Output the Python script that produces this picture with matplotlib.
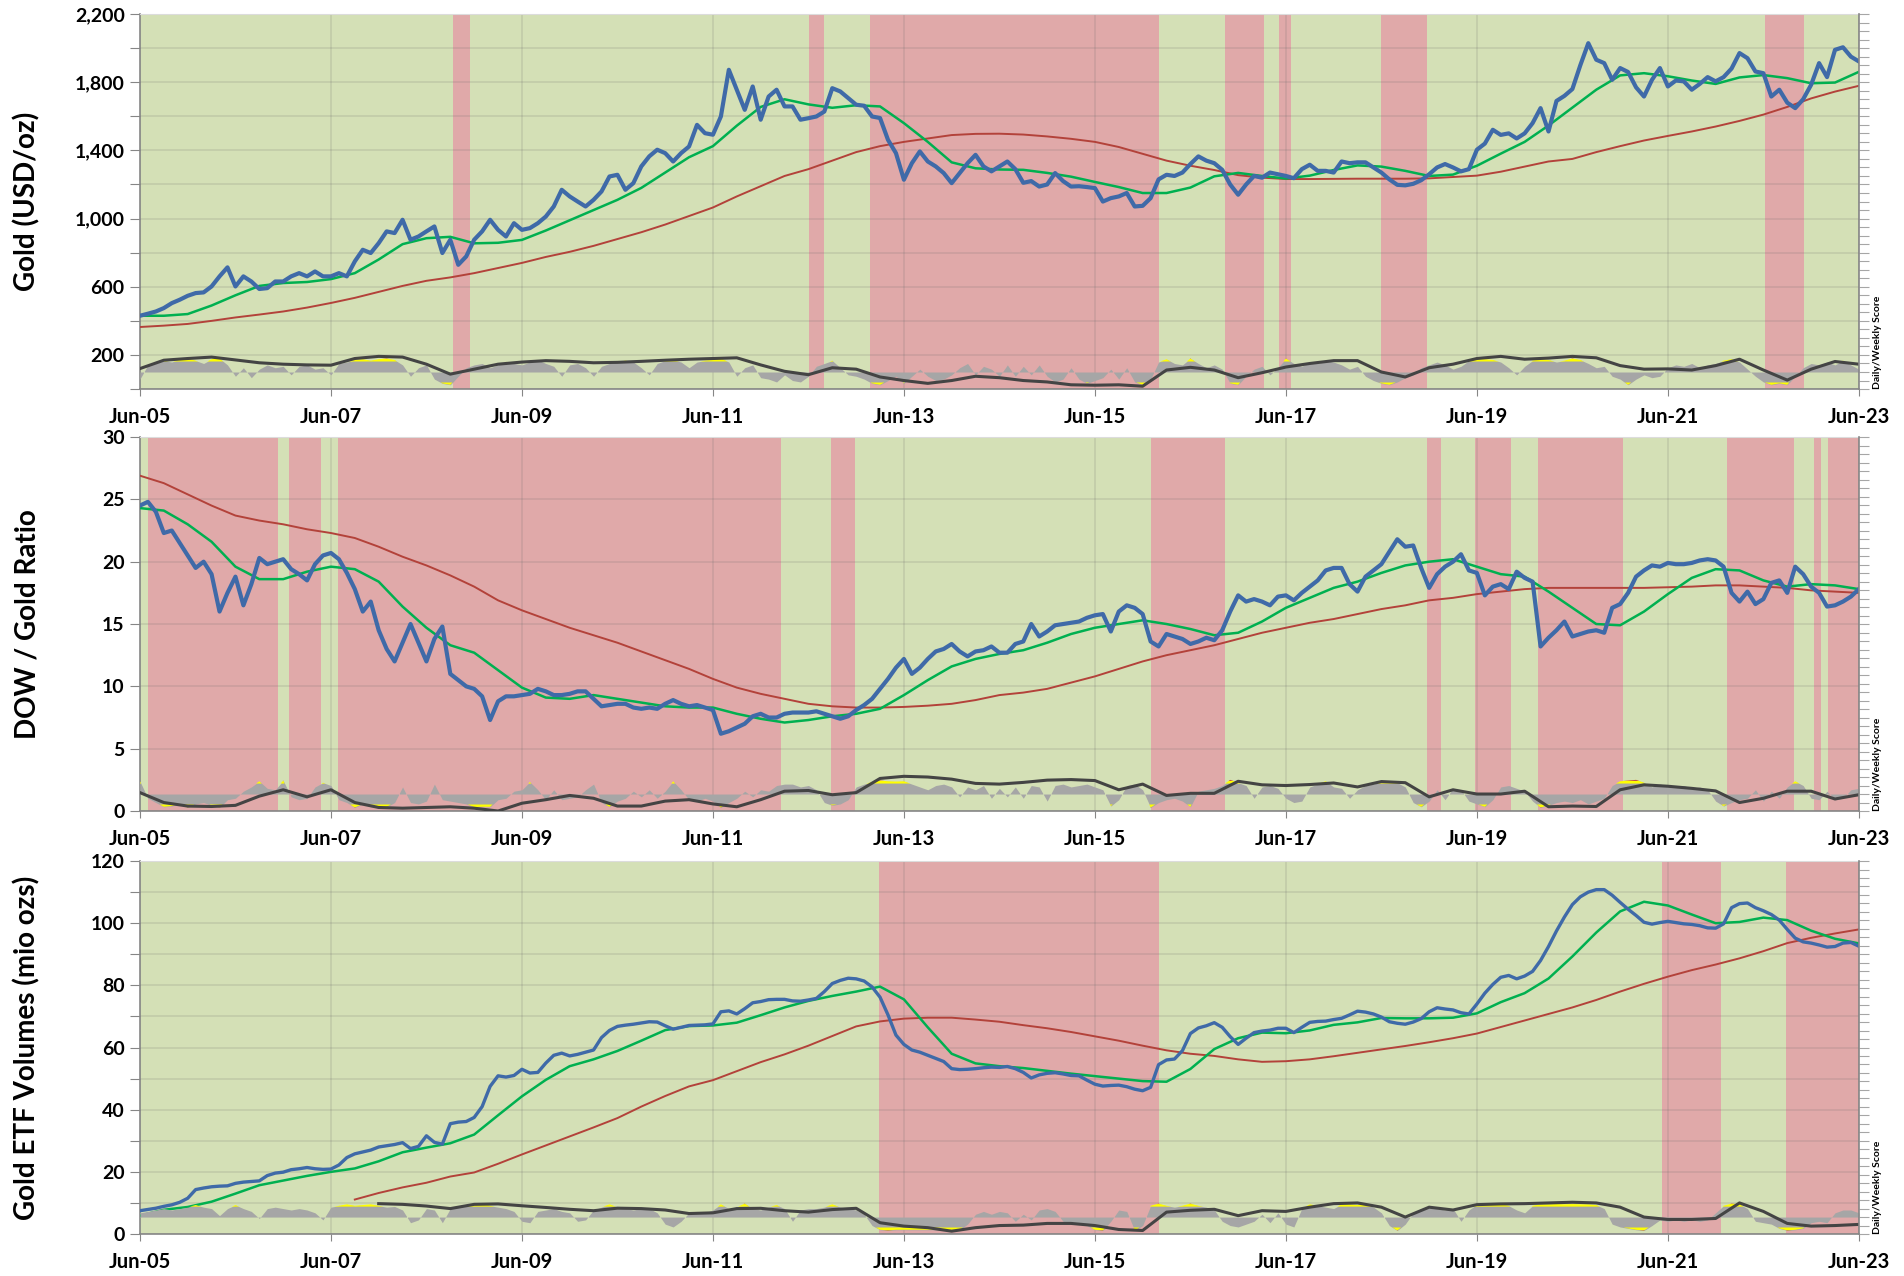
import numpy as np
import matplotlib
matplotlib.use("Agg")
import matplotlib.pyplot as plt

plt.rcParams['font.family'] = ['Lato', 'DejaVu Sans']
plt.rcParams['font.weight'] = 'bold'

# x axis = months since Jun 2005, monthly points 0..216, MAs/weekly score quarterly
x_tick_months = [0, 24, 48, 72, 96, 120, 144, 168, 192, 216]
x_tick_labels = ['Jun-05', 'Jun-07', 'Jun-09', 'Jun-11', 'Jun-13',
                 'Jun-15', 'Jun-17', 'Jun-19', 'Jun-21', 'Jun-23']
nan = np.nan

# ---------------- Panel 1: gold price ----------------
gold_price = (
    [430, 442, 455, 475, 504, 524, 547] +
    [563, 567, 602, 661, 714, 602, 661, 631, 587, 592, 631, 631] +
    [661, 680, 661, 690, 661, 661, 680, 661, 749, 817, 798, 856] +
    [925, 915, 993, 876, 895, 925, 954, 798, 876, 729, 778, 876] +
    [925, 993, 934, 895, 973, 934, 944, 973, 1012, 1071, 1169, 1130] +
    [1100, 1071, 1110, 1159, 1247, 1257, 1169, 1208, 1306, 1365, 1404, 1384] +
    [1335, 1384, 1423, 1550, 1501, 1492, 1599, 1873, 1756, 1638, 1775, 1580] +
    [1716, 1756, 1658, 1658, 1580, 1589, 1599, 1628, 1765, 1746, 1707, 1668] +
    [1662, 1599, 1590, 1462, 1384, 1228, 1325, 1394, 1335, 1306, 1267, 1208] +
    [1267, 1325, 1374, 1306, 1277, 1306, 1335, 1290, 1210, 1220, 1188, 1200] +
    [1267, 1220, 1188, 1190, 1185, 1179, 1100, 1120, 1130, 1150, 1071, 1075] +
    [1120, 1230, 1257, 1250, 1270, 1320, 1365, 1340, 1325, 1286, 1200, 1140] +
    [1200, 1250, 1240, 1270, 1260, 1250, 1237, 1290, 1316, 1280, 1280, 1270] +
    [1335, 1325, 1330, 1330, 1300, 1270, 1230, 1198, 1195, 1204, 1225, 1260] +
    [1300, 1320, 1300, 1277, 1290, 1404, 1440, 1521, 1491, 1500, 1470, 1500] +
    [1560, 1648, 1511, 1690, 1720, 1760, 1900, 2029, 1932, 1912, 1814, 1883] +
    [1860, 1770, 1716, 1814, 1883, 1775, 1810, 1805, 1756, 1790, 1830, 1805] +
    [1830, 1880, 1971, 1941, 1863, 1853, 1716, 1756, 1680, 1648, 1700, 1785] +
    [1912, 1830, 1990, 2005, 1950, 1922])
gold_ma_short = [
    430, 430, 440, 490, 550, 605, 622, 628, 645, 680, 760, 850,
    885, 893, 855, 858, 875, 930, 990, 1050, 1110, 1180, 1270, 1360,
    1425, 1545, 1655, 1700, 1670, 1650, 1665, 1658, 1560, 1450, 1330, 1295,
    1288, 1286, 1268, 1246, 1215, 1185, 1150, 1150, 1182, 1248, 1268, 1250,
    1235, 1252, 1285, 1312, 1305, 1280, 1250, 1258, 1310, 1381, 1450, 1546,
    1651, 1756, 1840, 1853, 1835, 1810, 1790, 1828, 1842, 1824, 1794, 1798,
    1861]
gold_ma_long = [
    364, 372, 382, 400, 420, 437, 455, 478, 505, 535, 570, 605,
    635, 655, 680, 710, 740, 775, 805, 840, 880, 920, 965, 1015,
    1065, 1130, 1190, 1250, 1290, 1340, 1390, 1425, 1450, 1470, 1490, 1497,
    1498, 1493, 1482, 1468, 1450, 1420, 1380, 1340, 1310, 1285, 1255, 1240,
    1232, 1232, 1233, 1234, 1234, 1234, 1236, 1244, 1252, 1275, 1305, 1335,
    1350, 1390, 1425, 1458, 1485, 1511, 1540, 1573, 1610, 1655, 1705, 1745,
    1779]
gold_score_daily = (
    [-0.5, 0.5, 0.7, 0.8, 0.7, 0.9, 0.95] +
    [0.8, 0.6, 0.9, 0.95, 0.5, -0.3, 0.3, -0.4, 0.2, 0.5, 0.3, 0.4] +
    [-0.2, 0.4, 0.5, 0.2, 0.3, -0.2, 0.6, 0.7, 0.85, 0.9, 0.8, 0.9] +
    [0.95, 0.85, 0.5, -0.3, 0.3, 0.5, -0.5, -0.8, -0.9, -0.3, 0.3, 0.5] +
    [0.6, 0.3, 0.5, 0.75, 0.6, 0.5, 0.7, 0.85, 0.6, 0.4, -0.3, 0.5] +
    [0.6, 0.3, -0.3, 0.4, 0.6, 0.7, 0.8, 0.7, 0.3, -0.2, 0.6, 0.8] +
    [0.85, 0.7, 0.3, 0.7, 0.8, 0.85, 0.95, 0.7, -0.3, 0.3, 0.5, -0.4] +
    [-0.5, -0.7, -0.2, -0.6, -0.7, -0.3, 0.4, 0.6, 0.8, 0.3, -0.2, -0.3] +
    [-0.5, -0.8, -0.9, -0.6, -0.3, -0.8, -0.3, 0.2, -0.3, -0.6, -0.5, -0.2] +
    [0.3, 0.6, -0.2, 0.4, 0.2, -0.3, 0.5, -0.3, 0.4, -0.2, 0.5, -0.3] +
    [-0.7, -0.5, 0.3, -0.5, -0.8, -0.6, -0.4, 0.2, -0.5, 0.3, -0.7, -0.9] +
    [-0.5, 0.7, 0.9, 0.6, 0.5, 0.95, 0.6, 0.3, 0.5, 0.2, -0.8, -0.9] +
    [-0.3, 0.2, 0.4, -0.2, 0.3, 0.95, 0.6, 0.4, 0.7, 0.6, 0.8, 0.7] +
    [0.5, 0.2, 0.4, -0.3, -0.6, -0.8, -0.9, -0.7, -0.4, -0.2, 0.3, 0.5] +
    [0.7, 0.5, 0.2, 0.4, 0.8, 0.9, 0.9, 0.85, 0.7, 0.3, -0.2, 0.4] +
    [0.8, 0.9, 0.85, 0.7, 0.8, 0.95, 0.85, 0.6, 0.3, 0.4, -0.3, -0.5] +
    [-0.9, -0.5, -0.2, -0.4, -0.3, 0.3, 0.5, 0.4, 0.6, 0.3, 0.5, 0.6] +
    [0.8, 0.9, 0.7, 0.2, -0.3, -0.7, -0.9, -0.8, -0.9, -0.3, 0.3, 0.6] +
    [0.5, 0.7, 0.5, 0.8, 0.5, 0.2])
gold_score_weekly = [
    0.24, 0.83, 0.95, 1.05, 0.85, 0.65, 0.55, 0.5, 0.48, 0.95, 1.1, 1.05,
    0.55, -0.15, 0.2, 0.55, 0.7, 0.8, 0.75, 0.65, 0.68, 0.75, 0.83, 0.9,
    0.95, 1.0, 0.5, 0.05, -0.19, 0.3, 0.2, -0.35, -0.6, -0.8, -0.6, -0.3,
    -0.4, -0.6, -0.7, -0.9, -0.93, -0.9, -1.0, 0.14, 0.33, 0.14, -0.4, -0.05,
    0.35, 0.6, 0.8, 0.8, 0.0, -0.35, 0.3, 0.55, 0.95, 1.1, 0.9, 0.98,
    1.1, 1.0, 0.45, 0.2, 0.22, 0.14, 0.45, 0.9, 0.14, -0.57, 0.2, 0.74,
    0.55]
gold_red_spans = [(39.4, 41.5), (84.1, 85.9), (91.7, 128.1), (136.3, 141.2),
                  (143.1, 144.7), (155.9, 161.7), (204.2, 209.1)]

# ---------------- Panel 2: DOW / gold ratio ----------------
ratio = (
    [24.5, 24.8, 24.0, 22.3, 22.5, 21.5, 20.5] +
    [19.5, 20.0, 19.0, 16.0, 17.5, 18.8, 16.5, 18.2, 20.3, 19.8, 20.0, 20.2] +
    [19.4, 19.0, 18.5, 19.8, 20.5, 20.7, 20.2, 19.1, 17.8, 16.0, 16.8, 14.5] +
    [13.0, 12.0, 13.5, 15.0, 13.5, 12.0, 13.8, 14.8, 11.0, 10.5, 10.0, 9.8] +
    [9.2, 7.3, 8.8, 9.2, 9.2, 9.3, 9.4, 9.8, 9.6, 9.3, 9.3, 9.4] +
    [9.6, 9.6, 9.0, 8.4, 8.5, 8.6, 8.6, 8.3, 8.2, 8.3, 8.2, 8.6] +
    [8.9, 8.6, 8.4, 8.5, 8.3, 8.1, 6.2, 6.4, 6.7, 7.0, 7.6, 7.8] +
    [7.5, 7.5, 7.8, 7.9, 7.9, 7.9, 8.0, 7.8, 7.6, 7.4, 7.6, 8.1] +
    [8.5, 9.0, 9.8, 10.6, 11.5, 12.2, 11.0, 11.5, 12.2, 12.8, 13.0, 13.4] +
    [12.8, 12.4, 12.8, 12.9, 13.2, 12.7, 12.7, 13.4, 13.6, 15.0, 14.0, 14.4] +
    [14.9, 15.0, 15.1, 15.2, 15.5, 15.7, 15.8, 14.4, 16.0, 16.5, 16.3, 15.8] +
    [13.6, 13.2, 14.2, 14.0, 13.8, 13.4, 13.6, 13.9, 13.7, 14.5, 16.0, 17.3] +
    [16.8, 17.0, 16.8, 16.5, 17.2, 17.3, 16.9, 17.5, 18.0, 18.5, 19.3, 19.5] +
    [19.5, 18.2, 17.6, 18.8, 19.3, 19.8, 20.8, 21.8, 21.2, 21.3, 19.5, 17.9] +
    [19.0, 19.6, 20.0, 20.6, 19.3, 19.1, 17.3, 18.0, 18.2, 17.8, 19.2, 18.7] +
    [18.4, 13.2, 13.9, 14.5, 15.2, 14.0, 14.2, 14.4, 14.5, 14.3, 16.3, 16.6] +
    [17.5, 18.8, 19.3, 19.7, 19.6, 19.9, 19.8, 19.8, 19.9, 20.1, 20.2, 20.1] +
    [19.6, 17.5, 16.8, 17.6, 16.6, 17.0, 18.3, 18.5, 17.5, 19.6, 19.0, 18.0] +
    [17.5, 16.4, 16.5, 16.8, 17.2, 17.8])
ratio_ma_short = [
    24.3, 24.1, 23.0, 21.6, 19.6, 18.6, 18.6, 19.2, 19.6, 19.4, 18.4, 16.4,
    14.7, 13.3, 12.7, 11.3, 9.9, 9.1, 9.0, 9.3, 9.0, 8.7, 8.4, 8.3,
    8.3, 7.8, 7.4, 7.1, 7.3, 7.6, 7.8, 8.2, 9.3, 10.5, 11.6, 12.2,
    12.6, 12.9, 13.5, 14.2, 14.7, 15.0, 15.3, 15.0, 14.6, 14.1, 14.3, 15.2,
    16.3, 17.1, 17.9, 18.4, 19.1, 19.7, 20.0, 20.2, 19.6, 19.0, 18.8, 17.6,
    16.3, 15.0, 14.9, 16.0, 17.4, 18.7, 19.4, 19.3, 18.5, 18.0, 18.2, 18.1,
    17.8]
ratio_ma_long = [
    26.9, 26.3, 25.4, 24.5, 23.7, 23.3, 23.0, 22.6, 22.3, 21.9, 21.2, 20.4,
    19.7, 18.9, 18.0, 16.9, 16.1, 15.4, 14.7, 14.1, 13.5, 12.8, 12.1, 11.4,
    10.6, 9.9, 9.4, 9.0, 8.6, 8.4, 8.3, 8.3, 8.35, 8.45, 8.6, 8.9,
    9.3, 9.5, 9.8, 10.3, 10.8, 11.4, 12.0, 12.5, 12.9, 13.3, 13.8, 14.3,
    14.7, 15.1, 15.4, 15.8, 16.2, 16.5, 16.9, 17.1, 17.4, 17.6, 17.8, 17.9,
    17.9, 17.9, 17.9, 17.9, 17.95, 18.0, 18.1, 18.1, 18.0, 17.9, 17.7, 17.6,
    17.5]
ratio_score_daily = (
    [0.9, -0.3, -0.6, -0.9, -0.85, -0.7, -0.95] +
    [-0.7, -0.6, -0.8, -0.95, -0.4, -0.3, 0.2, 0.5, 0.9, 0.4, 0.3, 0.95] +
    [-0.2, -0.4, -0.3, 0.5, 0.8, 0.6, -0.4, -0.6, -0.95, -0.7, -0.9, -0.92] +
    [-0.9, -0.6, 0.5, -0.6, -0.7, -0.5, 0.7, -0.4, -0.5, -0.6, -0.7, -0.92] +
    [-0.9, -0.9, -0.4, -0.3, 0.2, 0.3, 0.85, 0.3, -0.4, 0.3, -0.4, -0.3] +
    [-0.2, 0.3, 0.7, -0.6, -0.9, -0.5, -0.3, 0.2, -0.2, 0.3, -0.3, 0.2] +
    [0.9, 0.3, -0.4, -0.5, -0.3, -0.5, -0.95, -0.6, -0.3, 0.2, -0.2, 0.3] +
    [0.2, 0.6, 0.7, 0.7, 0.5, 0.6, 0.3, -0.6, -0.8, -0.7, -0.4, 0.5] +
    [0.7, 0.85, 0.95, 0.9, 0.88, 0.9, 0.7, 0.5, 0.3, 0.6, 0.7, 0.5] +
    [-0.2, 0.5, 0.3, 0.6, -0.3, 0.4, -0.2, 0.5, -0.3, 0.6, 0.5, -0.5] +
    [0.6, 0.7, 0.5, 0.6, 0.7, 0.5, 0.3, -0.85, -0.4, 0.6, 0.7, 0.3] +
    [-0.95, -0.6, -0.4, -0.3, -0.5, -0.9, 0.2, 0.3, 0.4, 0.6, 1.0, 0.8] +
    [0.6, -0.3, 0.5, 0.6, 0.4, -0.3, -0.6, -0.5, 0.5, 0.7, 0.9, 0.5] +
    [0.4, -0.3, 0.3, 0.6, 0.7, 0.85, 0.9, 0.8, 0.5, -0.6, -0.9, -0.5] +
    [0.3, -0.4, 0.4, 0.3, -0.5, -0.7, -0.9, -0.4, 0.5, 0.6, 0.4, 0.2] +
    [-0.5, -0.95, -0.8, -0.6, -0.5, -0.6, -0.4, -0.7, -0.5, -0.3, 0.6, 0.9] +
    [0.95, 1.0, 0.8, 0.5, 0.7, 0.6, 0.5, 0.6, 0.4, 0.5, 0.3, -0.5] +
    [-0.85, -0.6, -0.4, -0.3, 0.3, -0.5, 0.2, -0.3, 0.5, 0.9, 0.6, -0.3] +
    [-0.4, 0.2, -0.4, -0.3, 0.3, 0.4])
ratio_score_weekly = [
    0.1, -0.6, -0.85, -0.88, -0.8, -0.15, 0.3, -0.2, 0.3, -0.6, -0.95, -1.0,
    -0.95, -0.9, -1.0, -1.2, -0.65, -0.4, -0.1, -0.3, -0.85, -0.85, -0.5, -0.4,
    -0.7, -0.9, -0.4, 0.2, 0.25, -0.05, 0.1, 1.1, 1.25, 1.2, 1.05, 0.75,
    0.7, 0.82, 0.98, 1.02, 0.95, 0.3, 0.7, -0.1, 0.05, 0.05, 0.9, 0.65,
    0.6, 0.67, 0.78, 0.5, 0.88, 0.8, -0.2, 0.3, 0.0, 0.0, 0.2, -0.9,
    -0.85, -0.88, 0.3, 0.65, 0.55, 0.4, 0.22, -0.6, -0.3, 0.2, 0.2, -0.35,
    -0.05]
ratio_red_spans = [(1.0, 17.3), (18.7, 22.7), (24.9, 80.6), (86.9, 89.8),
                   (127.1, 136.4), (161.7, 163.5), (167.8, 172.3), (175.7, 186.4),
                   (199.4, 207.9), (210.3, 211.2), (212.1, 216.0)]

# ---------------- Panel 3: gold ETF volumes ----------------
etf = (
    [7.5, 7.9, 8.3, 8.9, 9.4, 10.2, 11.5] +
    [14.3, 14.8, 15.2, 15.4, 15.5, 16.3, 16.7, 16.9, 17.1, 18.8, 19.6, 19.9] +
    [20.7, 21.0, 21.4, 21.0, 20.8, 20.9, 22.2, 24.6, 25.8, 26.4, 27.0, 28.0] +
    [28.4, 28.8, 29.4, 27.5, 28.2, 31.6, 29.5, 28.9, 35.5, 36.0, 36.2, 37.5] +
    [41.0, 47.5, 50.9, 50.5, 51.0, 53.0, 51.8, 52.0, 55.0, 57.5, 58.2, 57.3] +
    [57.8, 58.5, 59.2, 63.2, 65.5, 66.8, 67.2, 67.5, 67.9, 68.3, 68.2, 67.0] +
    [65.9, 66.5, 67.1, 67.2, 67.3, 67.6, 71.5, 71.8, 70.8, 72.5, 74.4, 74.8] +
    [75.4, 75.5, 75.5, 75.0, 74.9, 75.3, 75.8, 78.0, 80.6, 81.6, 82.3, 82.1] +
    [81.4, 79.5, 76.2, 70.5, 64.0, 61.0, 59.2, 58.5, 57.5, 56.5, 55.5, 53.2] +
    [52.9, 53.0, 53.2, 53.5, 53.7, 53.6, 53.9, 53.2, 52.0, 50.2, 51.2, 51.7] +
    [51.9, 51.5, 51.0, 50.9, 49.5, 48.2, 47.6, 47.8, 47.9, 47.4, 46.6, 46.1] +
    [47.2, 54.5, 56.0, 56.3, 59.0, 64.5, 66.3, 67.0, 68.0, 66.5, 63.5, 61.0] +
    [63.0, 64.8, 65.3, 65.6, 66.2, 66.2, 64.8, 66.5, 68.1, 68.4, 68.5, 69.0] +
    [69.4, 70.5, 71.7, 71.4, 70.8, 69.8, 68.3, 67.8, 67.5, 68.2, 69.3, 71.5] +
    [72.8, 72.4, 72.1, 71.2, 70.8, 74.0, 77.5, 80.3, 82.6, 83.2, 82.1, 83.0] +
    [84.5, 88.0, 92.5, 97.5, 102.0, 106.0, 108.5, 110.0, 110.8, 110.8, 109.0, 106.7] +
    [104.5, 102.5, 100.3, 99.7, 100.2, 100.6, 100.2, 99.8, 99.6, 99.2, 98.5, 98.4] +
    [99.8, 105.0, 106.3, 106.5, 105.0, 104.0, 102.8, 101.0, 98.0, 95.2, 94.0, 93.6] +
    [93.0, 92.3, 92.5, 93.6, 93.8, 92.6])
etf_ma_short = [
    5.9, 7.8, 8.7, 10.4, 13.0, 15.7, 17.2, 18.7, 20.0, 21.1, 23.4, 26.3,
    27.8, 29.2, 32.0, 38.2, 44.3, 49.6, 54.0, 56.2, 58.9, 62.2, 65.6, 66.9,
    67.1, 68.0, 70.4, 72.9, 75.0, 76.6, 78.0, 79.6, 75.5, 66.5, 58.0, 54.9,
    54.0, 53.4, 52.5, 51.6, 50.8, 50.0, 49.2, 49.0, 53.1, 59.5, 63.0, 64.8,
    64.6, 65.5, 67.3, 68.1, 69.5, 69.4, 69.4, 69.6, 71.0, 74.6, 77.5, 82.2,
    89.3, 97.0, 103.8, 106.9, 105.7, 102.8, 100.0, 100.4, 101.8, 101.0, 97.6, 95.0,
    93.5]
etf_ma_long = [
    nan, nan, nan, nan, nan, nan, nan, nan, nan, 11.1, 13.2, 15.0,
    16.5, 18.5, 19.8, 22.6, 25.6, 28.5, 31.4, 34.3, 37.3, 41.0, 44.4, 47.5,
    49.5, 52.4, 55.3, 57.8, 60.6, 63.7, 66.8, 68.4, 69.3, 69.6, 69.6, 69.0,
    68.3, 67.2, 66.2, 65.0, 63.6, 62.2, 60.6, 59.1, 58.0, 57.3, 56.2, 55.4,
    55.6, 56.2, 57.2, 58.3, 59.4, 60.5, 61.7, 63.0, 64.5, 66.6, 68.7, 70.8,
    72.9, 75.3, 78.0, 80.5, 82.8, 84.9, 86.7, 88.7, 91.0, 93.6, 95.3, 96.7,
    98.0]
etf_score_daily = (
    [0.3, 0.4, 0.5, 0.6, 0.5, 0.6, 0.7] +
    [0.85, 0.7, 0.6, 0.1, 0.6, 0.85, 0.6, 0.4, -0.1, 0.6, 0.7, 0.6] +
    [0.5, 0.6, 0.5, 0.3, -0.2, 0.7, 0.8, 0.9, 0.8, 0.85, 0.9, 0.8] +
    [0.7, 0.75, 0.5, -0.4, -0.2, 0.6, 0.5, -0.4, 0.6, 0.7, 0.8, 0.85] +
    [0.95, 0.8, 0.7, 0.6, 0.4, -0.3, -0.4, 0.4, 0.5, 0.6, 0.4, 0.3] +
    [-0.3, -0.2, 0.5, 0.7, 0.9, 0.7, 0.6, 0.5, 0.6, 0.6, 0.3, -0.5] +
    [-0.7, -0.3, 0.3, 0.4, 0.3, 0.5, 0.9, 0.6, 0.7, 0.95, 0.6, 0.5] +
    [0.7, 0.85, 0.6, -0.3, 0.5, 0.6, 0.6, 0.7, 0.9, 0.7, 0.6, 0.5] +
    [0.2, -0.6, -0.9, -0.95, -0.9, -0.9, -0.9, -0.9, -0.9, -0.9, -0.95, -0.9] +
    [-0.9, -0.5, 0.2, 0.4, 0.2, 0.4, 0.3, -0.3, 0.2, -0.2, 0.5, 0.6] +
    [0.4, -0.3, -0.5, -0.4, -0.6, -0.9, -0.95, -0.3, 0.5, 0.4, -0.95, -0.6] +
    [0.8, 0.95, 0.8, 0.7, 0.8, 0.95, 0.8, 0.7, 0.5, -0.3, -0.6, -0.7] +
    [-0.5, -0.3, 0.2, -0.4, 0.3, -0.5, -0.7, 0.6, 0.9, 0.8, 0.7, 0.6] +
    [0.9, 0.9, 0.85, 0.9, 0.7, 0.3, -0.6, -0.95, -0.5, 0.3, 0.6, 0.7] +
    [0.6, 0.5, 0.6, -0.3, 0.5, 0.9, 0.9, 0.85, 0.9, 0.8, 0.5, 0.3] +
    [0.8, 0.9, 0.9, 0.92, 0.9, 0.92, 0.9, 0.9, 0.85, 0.6, -0.5, -0.7] +
    [-0.8, -0.9, -0.95, -0.6, -0.2, -0.3, -0.2, -0.3, -0.2, -0.3, -0.2, 0.3] +
    [0.8, 0.95, 0.9, 0.6, -0.3, -0.4, -0.5, -0.8, -0.95, -0.9, -0.8, -0.4] +
    [-0.3, -0.4, 0.3, 0.5, 0.5, 0.3])
etf_score_weekly = [
    nan, nan, nan, nan, nan, nan, nan, nan, nan, nan, 0.95, 0.9,
    0.78, 0.6, 0.9, 0.93, 0.8, 0.68, 0.55, 0.45, 0.63, 0.6, 0.5, 0.25,
    0.3, 0.6, 0.62, 0.45, 0.35, 0.53, 0.62, -0.4, -0.64, -0.75, -1.0, -0.75,
    -0.6, -0.57, -0.45, -0.45, -0.6, -0.88, -0.95, 0.35, 0.48, 0.55, 0.1, 0.45,
    0.4, 0.7, 0.95, 1.0, 0.7, 0.0, 0.7, 0.5, 0.88, 0.93, 0.95, 1.0,
    1.05, 1.0, 0.7, 0.0, -0.17, -0.17, -0.1, 1.0, 0.4, -0.45, -0.64, -0.6,
    -0.52]
etf_red_spans = [(92.9, 128.1), (191.2, 198.7), (206.9, 216.0)]

GREEN_BG = '#d4e0b6'
RED_BG = '#e0a9a9'
AXIS_GRAY = '#868686'


def draw_panel(rect, price, ma_short, ma_long, daily, weekly, spans,
               ylim, tick_step, label_vals, fmt, ylabel, price_lw):
    xm = np.arange(len(price))
    xq = np.arange(0, len(price), 3)
    assert len(price) == 217 and len(daily) == 217
    assert len(ma_short) == len(ma_long) == len(weekly) == len(xq)

    ax = fig.add_axes(rect)
    ax.set_facecolor(GREEN_BG)
    for a, b in spans:
        ax.axvspan(a, b, color=RED_BG, lw=0, zorder=0.1)
    ax.set_axisbelow(True)
    ax.grid(True, color='#6e6e6e', alpha=0.16, lw=1.4)

    ax.plot(xq, ma_long, color='#b3423a', lw=1.4, zorder=3)
    ax.plot(xq, ma_short, color='#00b050', lw=1.8, zorder=4)
    ax.plot(xm, price, color='#3f6aa8', lw=price_lw, zorder=5,
            solid_joinstyle='round')

    ax.set_xlim(0, 216)
    ax.set_ylim(*ylim)
    ticks = np.arange(ylim[0], ylim[1] + tick_step / 2, tick_step)
    ax.set_yticks(ticks)
    ax.set_yticklabels([fmt.format(t) if t in label_vals else '' for t in ticks])
    ax.set_xticks(x_tick_months)
    ax.set_xticklabels(x_tick_labels)
    ax.tick_params(axis='y', direction='out', length=7, color=AXIS_GRAY,
                   labelsize=14, pad=4)
    ax.tick_params(axis='x', direction='out', length=5, color=AXIS_GRAY,
                   labelsize=14.5, pad=8)
    for s in ('left', 'bottom'):
        ax.spines[s].set_color(AXIS_GRAY)
        ax.spines[s].set_linewidth(1.2)
    ax.spines['top'].set_color('#dcdcdc')
    ax.spines['right'].set_visible(False)
    ax.set_ylabel(ylabel, fontsize=20, fontweight='bold')
    ax.yaxis.set_label_coords(-0.058, 0.5)

    # score strip on secondary axis
    ax2 = ax.twinx()
    ax2.grid(False)
    ax2.set_ylim(-1.2, 25.2)
    ax2.set_yticks(np.linspace(-1.2, 25.2, 45))
    ax2.tick_params(axis='y', direction='out', length=7, color='#a6a6a6',
                    labelright=False)
    ax2.spines['right'].set_color(AXIS_GRAY)
    ax2.spines['right'].set_linewidth(1.2)
    for s in ('left', 'top', 'bottom'):
        ax2.spines[s].set_visible(False)
    d = np.array(daily, dtype=float)
    ax2.fill_between(xm, 0, d, color='#a6a6a6', lw=0)
    for thr, col in ((0.74, '#ffff00'), (0.92, '#c0504d')):
        ax2.fill_between(xm, thr, d, where=d > thr, interpolate=True, color=col, lw=0)
        ax2.fill_between(xm, -thr, d, where=d < -thr, interpolate=True, color=col, lw=0)
    ax2.plot(xq, weekly, color='#444444', lw=2.2)
    ax2.text(1.008, 0.0, 'Daily/Weekly Score', transform=ax2.transAxes,
             rotation=90, ha='left', va='bottom', fontsize=7.5, fontweight='bold')
    return ax


fig = plt.figure(figsize=(19.04, 12.76), dpi=100)
W = 0.9028
draw_panel([0.0735, 0.6951, W, 0.2939], gold_price, gold_ma_short, gold_ma_long,
           gold_score_daily, gold_score_weekly, gold_red_spans,
           (0, 2200), 200, [200, 600, 1000, 1400, 1800, 2200], '{:,.0f}',
           'Gold (USD/oz)', 3.0)
draw_panel([0.0735, 0.3644, W, 0.2931], ratio, ratio_ma_short, ratio_ma_long,
           ratio_score_daily, ratio_score_weekly, ratio_red_spans,
           (0, 30), 5, [0, 5, 10, 15, 20, 25, 30], '{:.0f}',
           'DOW / Gold Ratio', 3.0)
draw_panel([0.0735, 0.0329, W, 0.2923], etf, etf_ma_short, etf_ma_long,
           etf_score_daily, etf_score_weekly, etf_red_spans,
           (0, 120), 10, [0, 20, 40, 60, 80, 100, 120], '{:.0f}',
           'Gold ETF Volumes (mio ozs)', 2.4)

fig.savefig('out.png', dpi=100)
